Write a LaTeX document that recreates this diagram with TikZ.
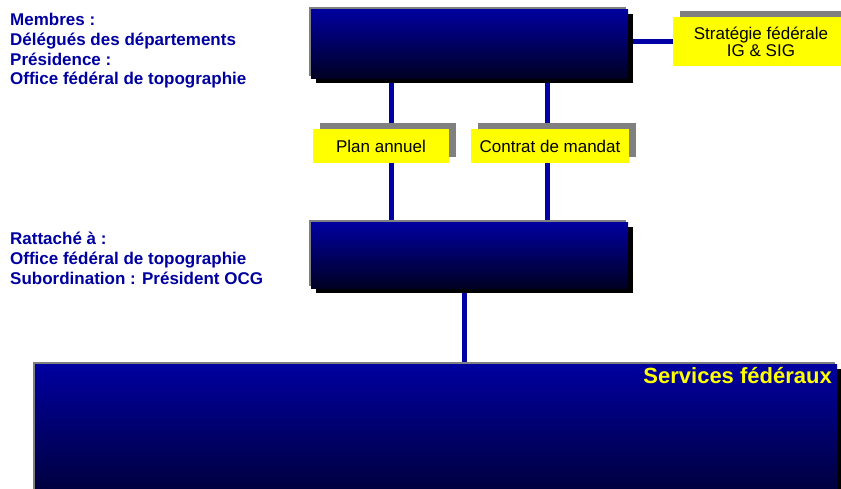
\documentclass[tikz,border=0pt]{standalone}
\usepackage{fontspec}
\setmainfont{Liberation Sans}
\usetikzlibrary{shadows,backgrounds}

\definecolor{navy}{RGB}{0,0,160}
\definecolor{deepnavy}{RGB}{0,0,36}
\definecolor{linkblue}{RGB}{0,0,165}
\definecolor{boxgray}{RGB}{128,128,128}
\definecolor{tagyellow}{RGB}{255,255,0}

\begin{document}
\begin{tikzpicture}[x=1pt,y=-1pt,
  panel/.style={inner sep=0pt, outer sep=0pt, anchor=north west,
    top color=navy, bottom color=deepnavy,
    general shadow={fill=boxgray, shadow xshift=-2pt, shadow yshift=2pt},
    general shadow={fill=black, shadow xshift=5pt, shadow yshift=-5pt}},
  tag/.style={fill=tagyellow, inner sep=0pt, outer sep=0pt, anchor=north west,
    align=center, font=\fontsize{17}{17}\selectfont,
    general shadow={fill=boxgray, shadow xshift=7pt, shadow yshift=6pt}},
  note/.style={anchor=base west, inner sep=0pt, text=navy,
    font=\bfseries\fontsize{17}{20}\selectfont},
  link/.style={draw=linkblue, line width=5pt}]

\useasboundingbox (0,0) rectangle (841,488);

% committee boxes
\node[panel, minimum width=317pt, minimum height=69pt] (top) at (311,9) {};
\node[panel, minimum width=317pt, minimum height=66pt] (mid) at (311,222) {};
\node[panel, minimum width=802pt, minimum height=160pt] (bot) at (35,364) {};
\node[anchor=base east, inner sep=0pt, text=tagyellow,
  font=\bfseries\fontsize{22}{22}\selectfont] (svc)
  at ([xshift=-5pt,yshift=-19pt]bot.north east) {Services fédéraux};

% yellow tags
\node[tag, minimum width=176pt, minimum height=49pt] (strat) at (673,17)
  {Stratégie fédérale\\IG \& SIG};
\node[tag, minimum width=136pt, minimum height=34pt] (plan) at (313,129)
  {Plan annuel};
\node[tag, minimum width=158pt, minimum height=34pt] (contrat) at (471,129)
  {Contrat de mandat};

% side notes
\node[note] (m1) at (10,25.5) {Membres :};
\node[note] (m2) at (10,45) {Délégués des départements};
\node[note] (m3) at (10,65) {Présidence :};
\node[note] (m4) at (10,84.5) {Office fédéral de topographie};
\node[note] (r1) at (10,244) {Rattaché à :};
\node[note] (r2) at (10,264) {Office fédéral de topographie};
\node[note] (r3) at (10,284) {Subordination : Président OCG};

% connectors
\begin{scope}[on background layer]
  \draw[link] (strat.west) -- (strat.west -| top.east);
  \draw[link] ([xshift=10pt]plan.north) -- ([xshift=10pt]plan.north |- top.south);
  \draw[link] ([xshift=10pt]plan.south) -- ([xshift=10pt]plan.south |- mid.north);
  \draw[link] ([xshift=-3pt]contrat.north) -- ([xshift=-3pt]contrat.north |- top.south);
  \draw[link] ([xshift=-3pt]contrat.south) -- ([xshift=-3pt]contrat.south |- mid.north);
  \draw[link] ([xshift=-5.5pt]mid.south) -- ([xshift=-5.5pt]mid.south |- bot.north);
\end{scope}
\end{tikzpicture}
\end{document}
